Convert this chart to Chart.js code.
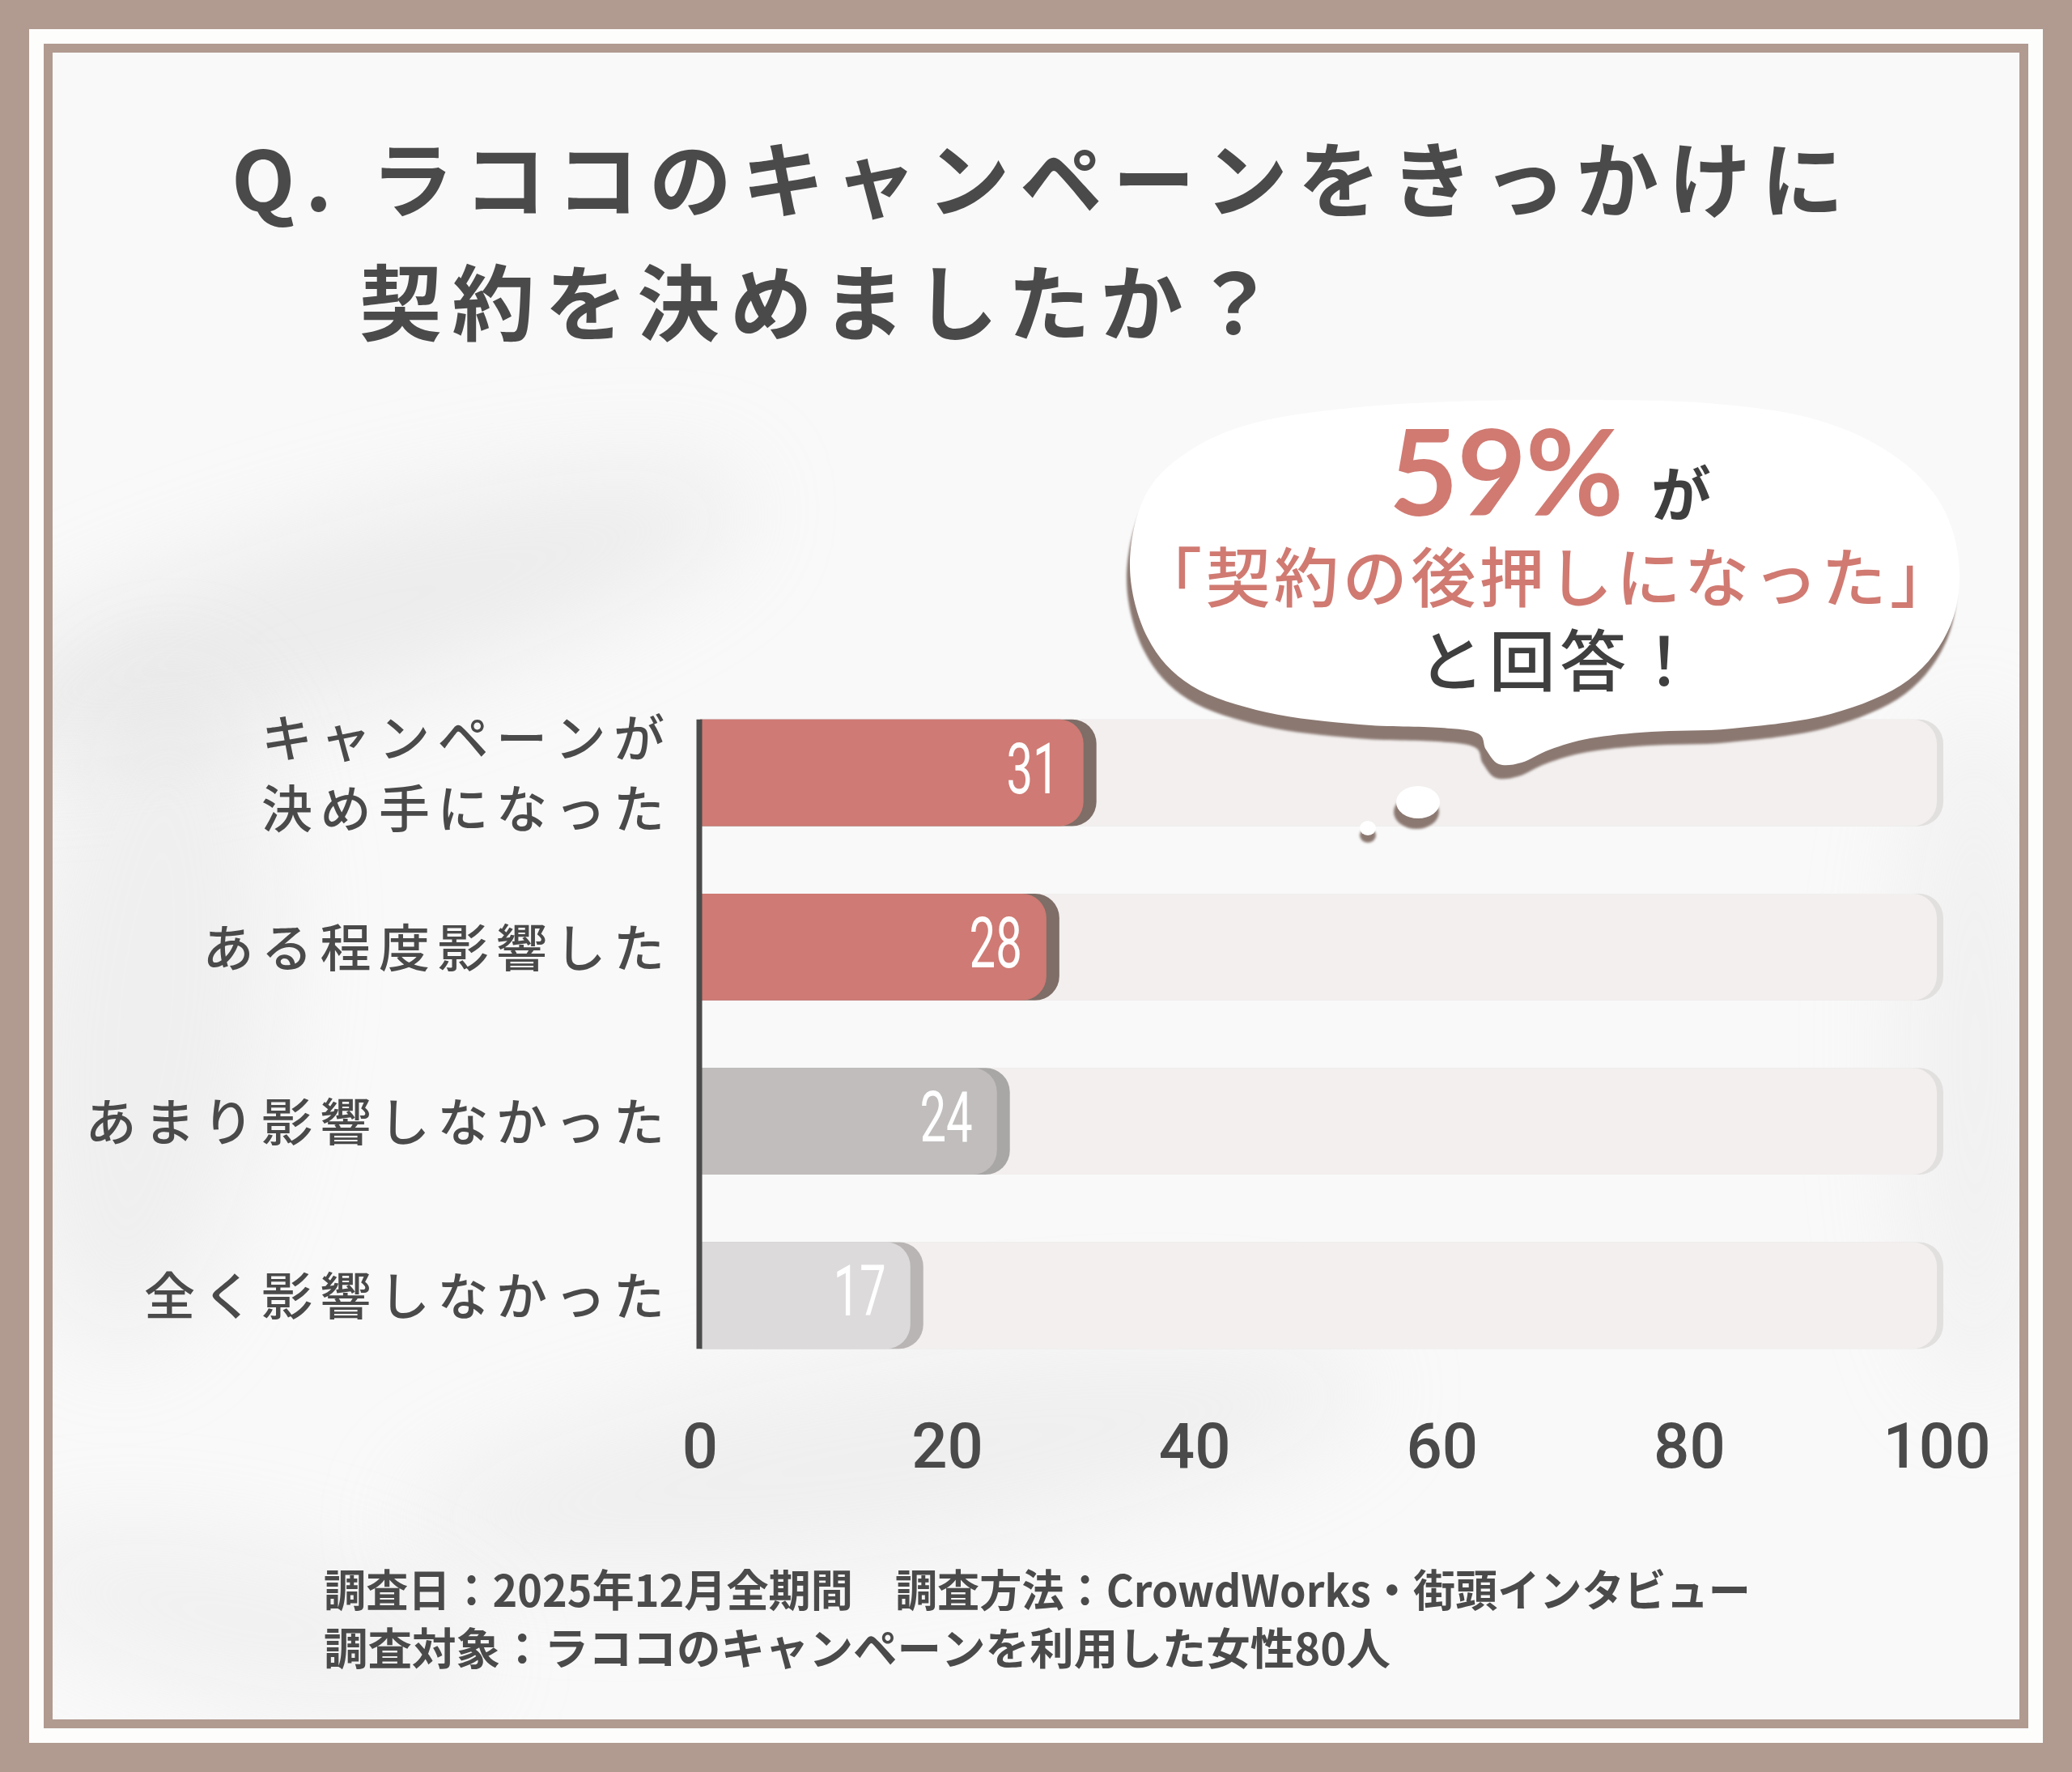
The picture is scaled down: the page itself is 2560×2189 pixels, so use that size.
<!DOCTYPE html>
<html lang="ja">
<head>
<meta charset="utf-8">
<title>ラココのキャンペーン調査</title>
<script src="https://cdn.jsdelivr.net/npm/chart.js@4.4.1/dist/chart.umd.min.js"></script>
<style>
    html, body { margin: 0; padding: 0; background: #b19a90; }
    #wrap { position: relative; width: 2560px; height: 2189px; }
</style>
</head>
<body>
<div id="wrap"><canvas id="grafico"></canvas></div>
<script>
// dados do grafico
const categories = [['キャンペーンが', '決め手になった'], 'ある程度影響した', 'あまり影響しなかった', '全く影響しなかった'];
const answers = [31, 28, 24, 17];
const axisMax = 100;
const axisTicks = [0, 20, 40, 60, 80, 100];

// textos
const titleLines = ['Q. ラココのキャンペーンをきっかけに', '契約を決めましたか？'];
const bubbleBig = '59%';
const bubbleGa = 'が';
const bubbleQuote = '「契約の後押しになった」';
const bubbleEnd = 'と回答！';
const footLines = ['調査日：2025年12月全期間　調査方法：CrowdWorks・街頭インタビュー', '調査対象：ラココのキャンペーンを利用した女性80人'];

// cores
const barColors = ['#cf7a74', '#cf7a74', '#c0bdbc', '#dcdadb'];
const shadowColors = ['#7f6d67', '#7f6d67', '#a9a7a6', '#b9b5b4'];
const trackColor = '#f2efee';
const trackShadow = '#e2e0df';
const inkColor = '#4a4a4a';
const redText = '#d07a72';
const JP = "'Noto Sans CJK JP', 'Noto Sans', sans-serif";

let graficoInstance = null;

// texto com espacamento entre letras
function drawSpacedFit(ctx, text, x, y, width) {
    const chars = Array.from(text);
    const widths = chars.map(c => ctx.measureText(c).width);
    const sum = widths.reduce((a, b) => a + b, 0);
    const spacing = chars.length > 1 ? (width - sum) / (chars.length - 1) : 0;
    ctx.textAlign = 'left';
    let cx = x;
    chars.forEach((c, i) => { ctx.fillText(c, cx, y); cx += widths[i] + spacing; });
}

function drawSpacedRight(ctx, text, right, y, spacing) {
    const chars = Array.from(text);
    const widths = chars.map(c => ctx.measureText(c).width);
    const total = widths.reduce((a, b) => a + b, 0) + spacing * (chars.length - 1);
    ctx.textAlign = 'left';
    let cx = right - total;
    chars.forEach((c, i) => { ctx.fillText(c, cx, y); cx += widths[i] + spacing; });
}

function drawScaledFit(ctx, text, x, y, width) {
    const w = ctx.measureText(text).width;
    ctx.save();
    ctx.translate(x, y);
    ctx.scale(width / w, 1);
    ctx.textAlign = 'left';
    ctx.fillText(text, 0, 0);
    ctx.restore();
}

function roundRight(ctx, left, top, right, bottom, r) {
    ctx.beginPath();
    ctx.moveTo(left, top);
    ctx.lineTo(right - r, top);
    ctx.arcTo(right, top, right, top + r, r);
    ctx.lineTo(right, bottom - r);
    ctx.arcTo(right, bottom, right - r, bottom, r);
    ctx.lineTo(left, bottom);
    ctx.closePath();
}

// contorno do balao (catmull-rom fechado)
const bubblePts = [[1396, 700], [1416, 610], [1474, 554], [1560, 520], [1690, 502], [1830, 495], [1970, 494], [2110, 498], [2235, 516], [2330, 556], [2394, 616], [2420, 692], [2410, 772], [2358, 840], [2262, 882], [2140, 900], [2040, 904], [1965, 912], [1915, 926], [1880, 942], [1852, 944], [1836, 926], [1826, 906], [1780, 899], [1680, 895], [1565, 880], [1472, 847], [1418, 788]];

function bubblePath(ctx, dx, dy) {
    const p = bubblePts;
    const n = p.length;
    ctx.beginPath();
    ctx.moveTo(p[0][0] + dx, p[0][1] + dy);
    for (let i = 0; i < n; i++) {
        const p0 = p[(i - 1 + n) % n], p1 = p[i], p2 = p[(i + 1) % n], p3 = p[(i + 2) % n];
        const c1x = p1[0] + (p2[0] - p0[0]) / 6, c1y = p1[1] + (p2[1] - p0[1]) / 6;
        const c2x = p2[0] - (p3[0] - p1[0]) / 6, c2y = p2[1] - (p3[1] - p1[1]) / 6;
        ctx.bezierCurveTo(c1x + dx, c1y + dy, c2x + dx, c2y + dy, p2[0] + dx, p2[1] + dy);
    }
    ctx.closePath();
}

// moldura e fundo
const fundoPlugin = {
    id: 'fundo',
    beforeDraw(chart) {
        const ctx = chart.ctx;
        ctx.save();
        ctx.fillStyle = '#b19a90';
        ctx.fillRect(0, 0, 2560, 2189);
        ctx.fillStyle = '#fdfdfc';
        ctx.fillRect(36, 36, 2488, 2117);
        ctx.fillStyle = '#b19a90';
        ctx.fillRect(54, 54, 2452, 2081);
        ctx.fillStyle = '#f9f9f9';
        ctx.fillRect(65, 65, 2430, 2059);

        // sombras suaves do fundo
        ctx.beginPath();
        ctx.rect(65, 65, 2430, 2059);
        ctx.clip();
        ctx.filter = 'blur(60px)';
        ctx.fillStyle = 'rgba(210, 210, 210, 0.3)';
        ctx.beginPath(); ctx.ellipse(420, 760, 520, 110, -0.28, 0, Math.PI * 2); ctx.fill();
        ctx.fillStyle = 'rgba(215, 215, 215, 0.28)';
        ctx.beginPath(); ctx.ellipse(180, 1250, 160, 420, 0.1, 0, Math.PI * 2); ctx.fill();
        ctx.beginPath(); ctx.ellipse(1100, 1800, 600, 120, -0.15, 0, Math.PI * 2); ctx.fill();
        ctx.fillStyle = 'rgba(215, 215, 215, 0.25)';
        ctx.beginPath(); ctx.ellipse(2440, 1300, 90, 420, 0, 0, Math.PI * 2); ctx.fill();
        ctx.beginPath(); ctx.ellipse(300, 2000, 300, 90, 0.2, 0, Math.PI * 2); ctx.fill();
        ctx.filter = 'none';
        ctx.restore();
    }
};

// sombra das barras, antes do dataset
const sombraPlugin = {
    id: 'sombra',
    beforeDatasetDraw(chart, args) {
        const ctx = chart.ctx;
        const isTrack = args.index === 0;
        ctx.save();
        args.meta.data.forEach((el, i) => {
            const h = el.height;
            const extra = isTrack ? 8 : 16;
            ctx.fillStyle = isTrack ? trackShadow : shadowColors[i];
            roundRight(ctx, el.base, el.y - h / 2, el.x + extra, el.y + h / 2, 30);
            ctx.fill();
        });
        ctx.restore();
    }
};

// eixo, rotulos, valores e balao
const textosPlugin = {
    id: 'textos',
    afterDatasetsDraw(chart) {
        const ctx = chart.ctx;
        const yScale = chart.scales.y;
        const xScale = chart.scales.x;
        const bars = chart.getDatasetMeta(1).data;
        ctx.save();

        // linha do eixo
        const first = bars[0], last = bars[bars.length - 1];
        ctx.strokeStyle = '#4b4b4b';
        ctx.lineWidth = 7;
        ctx.beginPath();
        ctx.moveTo(xScale.getPixelForValue(0) - 1, first.y - first.height / 2);
        ctx.lineTo(xScale.getPixelForValue(0) - 1, last.y + last.height / 2);
        ctx.stroke();

        // rotulos das categorias
        ctx.fillStyle = inkColor;
        ctx.font = `500 63px ${JP}`;
        ctx.textBaseline = 'middle';
        const labelRight = xScale.getPixelForValue(0) - 44;
        yScale.getLabels().forEach((lab, i) => {
            const cy = yScale.getPixelForTick(i);
            const lines = Array.isArray(lab) ? lab : [lab];
            lines.forEach((ln, j) => {
                const ly = cy + (j - (lines.length - 1) / 2) * 87;
                drawSpacedRight(ctx, ln, labelRight, ly, 9.5);
            });
        });

        // valores dentro das barras
        ctx.fillStyle = '#ffffff';
        ctx.font = `400 88px Roboto, sans-serif`;
        bars.forEach((el, i) => {
            ctx.save();
            ctx.translate(el.x - 30, el.y + 3);
            ctx.scale(0.66, 1);
            ctx.textAlign = 'right';
            ctx.fillText(String(answers[i]), 0, 0);
            ctx.restore();
        });

        // balao
        ctx.filter = 'blur(1.5px)';
        ctx.fillStyle = '#8b7871';
        bubblePath(ctx, -4, 17);
        ctx.fill();
        ctx.beginPath(); ctx.ellipse(1750, 1003, 28, 21, 0, 0, Math.PI * 2); ctx.fill();
        ctx.beginPath(); ctx.ellipse(1690, 1032, 10, 9, 0, 0, Math.PI * 2); ctx.fill();
        ctx.filter = 'none';
        ctx.fillStyle = '#ffffff';
        bubblePath(ctx, 0, 0);
        ctx.fill();
        ctx.beginPath(); ctx.ellipse(1752, 991, 27, 20, 0, 0, Math.PI * 2); ctx.fill();
        ctx.beginPath(); ctx.ellipse(1690, 1023, 10, 9, 0, 0, Math.PI * 2); ctx.fill();

        ctx.textBaseline = 'alphabetic';
        ctx.fillStyle = redText;
        ctx.font = `700 148px Lato, 'Open Sans', sans-serif`;
        drawSpacedFit(ctx, bubbleBig, 1716, 637, 290);
        ctx.fillStyle = '#3f3f3f';
        ctx.font = `700 74px ${JP}`;
        ctx.textAlign = 'left';
        ctx.fillText(bubbleGa, 2040, 638);

        ctx.textBaseline = 'middle';
        ctx.fillStyle = redText;
        ctx.font = `500 80px ${JP}`;
        drawSpacedFit(ctx, bubbleQuote, 1405, 713, 1010);
        ctx.fillStyle = '#3f3f3f';
        ctx.font = `500 82px ${JP}`;
        drawSpacedFit(ctx, bubbleEnd, 1752, 816, 345);

        ctx.restore();
    },
    afterDraw(chart) {
        const ctx = chart.ctx;
        ctx.save();
        ctx.fillStyle = inkColor;
        ctx.textBaseline = 'middle';
        // titulo
        ctx.font = `700 102px ${JP}`;
        drawSpacedFit(ctx, titleLines[0], 286, 222, 1992);
        drawSpacedFit(ctx, titleLines[1], 444, 374, 1132);
        // rodape
        ctx.font = `700 54px ${JP}`;
        drawScaledFit(ctx, footLines[0], 400, 1964, 1763);
        drawScaledFit(ctx, footLines[1], 400, 2036, 1318);
        ctx.restore();
    }
};

function inicializarGrafico() {
    const canvas = document.getElementById('grafico');
    const ctx = canvas.getContext('2d');

    graficoInstance = new Chart(ctx, {
        type: 'bar',
        data: {
            labels: categories,
            datasets: [{
                label: 'track',
                data: categories.map(() => axisMax),
                backgroundColor: trackColor,
                borderRadius: { topRight: 30, bottomRight: 30 },
                borderSkipped: 'start',
                grouped: false,
                order: 2,
                barPercentage: 0.613,
                categoryPercentage: 1
            }, {
                label: '回答数',
                data: answers,
                backgroundColor: barColors,
                borderRadius: { topRight: 30, bottomRight: 30 },
                borderSkipped: 'start',
                grouped: false,
                order: 1,
                barPercentage: 0.613,
                categoryPercentage: 1
            }]
        },
        options: {
            indexAxis: 'y',
            responsive: true,
            maintainAspectRatio: false,
            devicePixelRatio: 1,
            animation: false,
            layout: {
                padding: { left: 865, right: 167, top: 847, bottom: 341 }
            },
            plugins: {
                legend: { display: false },
                tooltip: { enabled: false },
                title: { display: false }
            },
            scales: {
                x: {
                    min: 0,
                    max: axisMax,
                    afterBuildTicks: s => { s.ticks = axisTicks.map(v => ({ value: v })); },
                    afterFit: s => { s.height = 140; },
                    grid: { display: false },
                    border: { display: false },
                    ticks: {
                        color: inkColor,
                        padding: 31,
                        font: { family: 'Roboto, sans-serif', size: 78, weight: '500' }
                    }
                },
                y: {
                    afterFit: s => { s.width = 0; },
                    grid: { display: false },
                    border: { display: false },
                    ticks: { display: false }
                }
            }
        },
        plugins: [fundoPlugin, sombraPlugin, textosPlugin]
    });
}

// carregar
inicializarGrafico();
</script>
</body>
</html>
